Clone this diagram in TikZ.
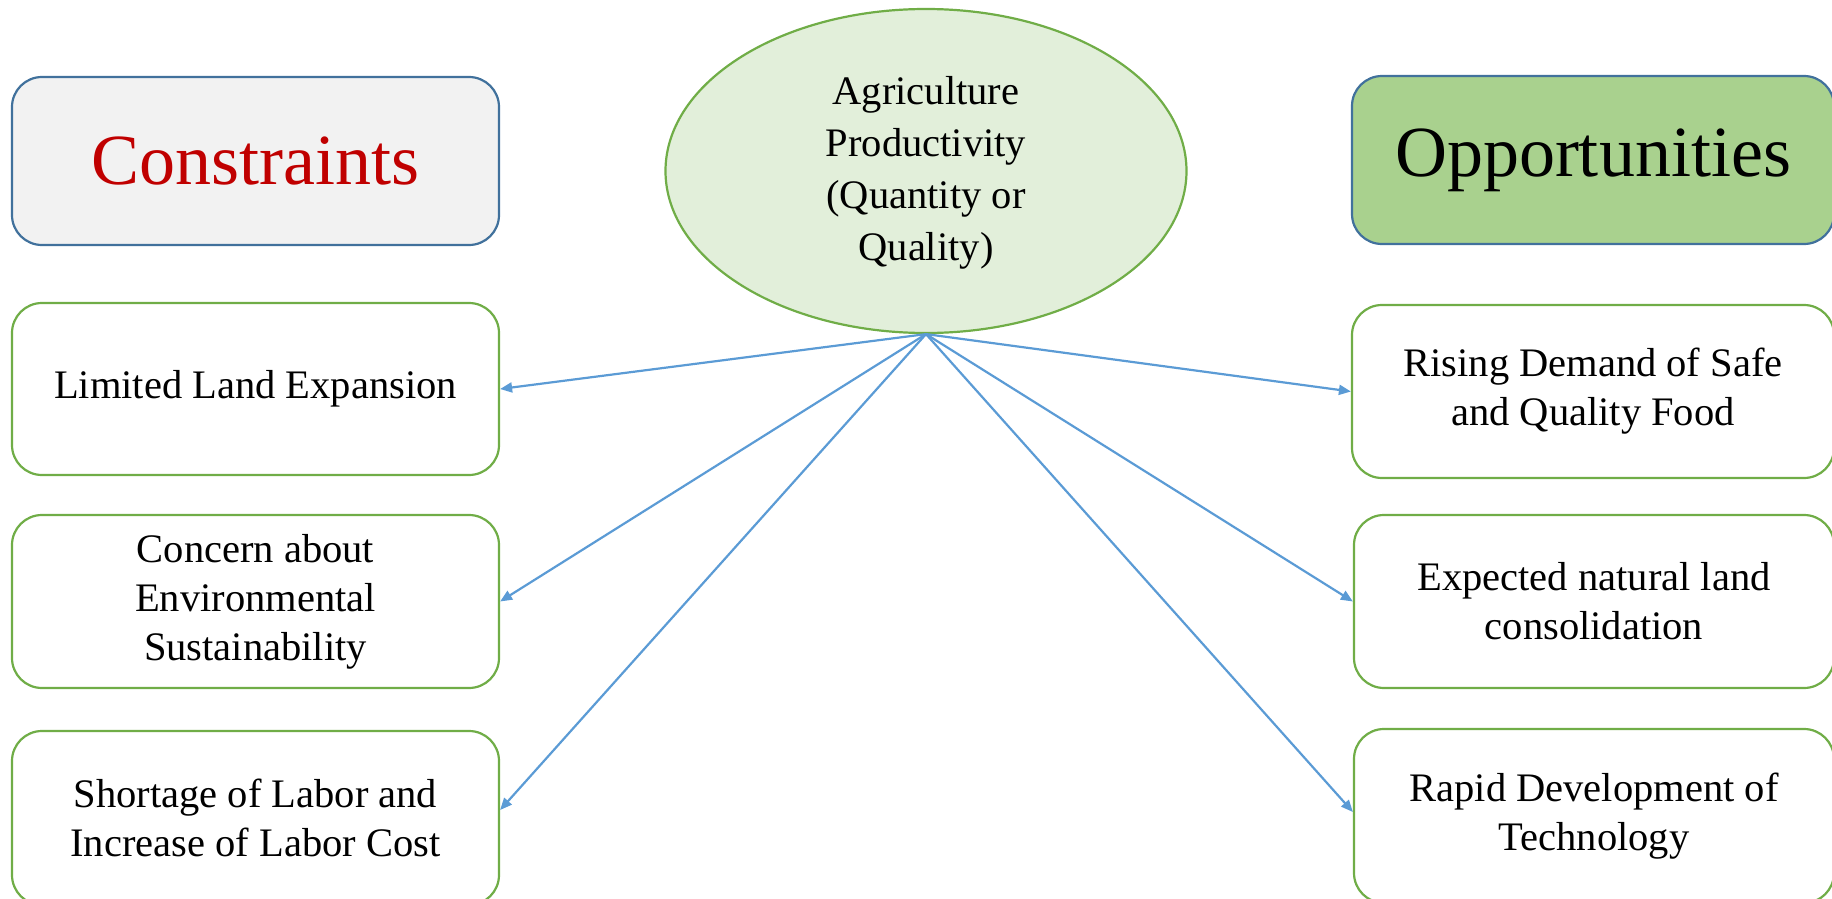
\documentclass[tikz,border=0pt]{standalone}
\usepackage{fontspec}
\setmainfont{Liberation Serif}
\usetikzlibrary{arrows.meta,shapes.geometric}
\definecolor{hdrblue}{HTML}{41719C}
\definecolor{itemgreen}{HTML}{70AD47}
\definecolor{consfill}{HTML}{F2F2F2}
\definecolor{consred}{HTML}{C00000}
\definecolor{oppfill}{HTML}{A9D18E}
\definecolor{ellfill}{HTML}{E2EFDA}
\definecolor{linkblue}{HTML}{5B9BD5}
\begin{document}
\begin{tikzpicture}[x=1pt,y=1pt,
  hdrbox/.style={draw=hdrblue, line width=2.2pt, rounded corners=30pt, minimum width=487pt, minimum height=168pt, inner sep=0pt, font=\fontsize{72}{80}\selectfont},
  itembox/.style={draw=itemgreen, line width=2.2pt, fill=white, rounded corners=30pt, minimum width=487pt, minimum height=172pt, inner sep=0pt, align=center, font=\fontsize{40.5}{49}\selectfont},
  link/.style={draw=linkblue, line width=2.2pt, -{Triangle[length=12pt,width=10pt]}}]
\useasboundingbox (0,0) rectangle (1832,-899);
\node[hdrbox, fill=consfill, text=consred] (cons) at (255.5,-161) {Constraints};
\node[hdrbox, fill=oppfill, minimum width=482pt] (opp) at (1593,-160) {Opportunities};
\node[ellipse, draw=itemgreen, fill=ellfill, line width=2.2pt, minimum width=521pt, minimum height=324pt, inner sep=0pt] (agri) at (926,-171) {};
\node[align=center, font=\fontsize{40.5}{52}\selectfont, inner sep=0pt] (agritext) at (926,-173) {Agriculture\\Productivity\\(Quantity or\\Quality)};
\node[itembox] (l1) at (255.5,-389) {Limited Land Expansion};
\node[itembox, minimum height=173pt] (l2) at (255.5,-601.5) {Concern about\\Environmental\\Sustainability};
\node[itembox, minimum height=174pt] (l3) at (255.5,-818) {Shortage of  Labor and\\Increase of Labor Cost};
\node[itembox, minimum width=482pt, minimum height=173pt] (r1) at (1593,-391.5) {Rising Demand of  Safe\\and Quality Food};
\node[itembox, minimum width=480pt, minimum height=173pt] (r2) at (1594,-601.5) {Expected natural land\\consolidation};
\node[itembox, minimum width=480pt, minimum height=174pt] (r3) at (1594,-816) {Rapid Development of\\Technology};
\draw[link] (agri.south) -- (l1.east);
\draw[link] (agri.south) -- (l2.east);
\draw[link] (agri.south) -- ([yshift=8pt]l3.east);
\draw[link] (agri.south) -- (r1.west);
\draw[link] (agri.south) -- (r2.west);
\draw[link] (agri.south) -- ([yshift=4pt]r3.west);
\end{tikzpicture}
\end{document}
